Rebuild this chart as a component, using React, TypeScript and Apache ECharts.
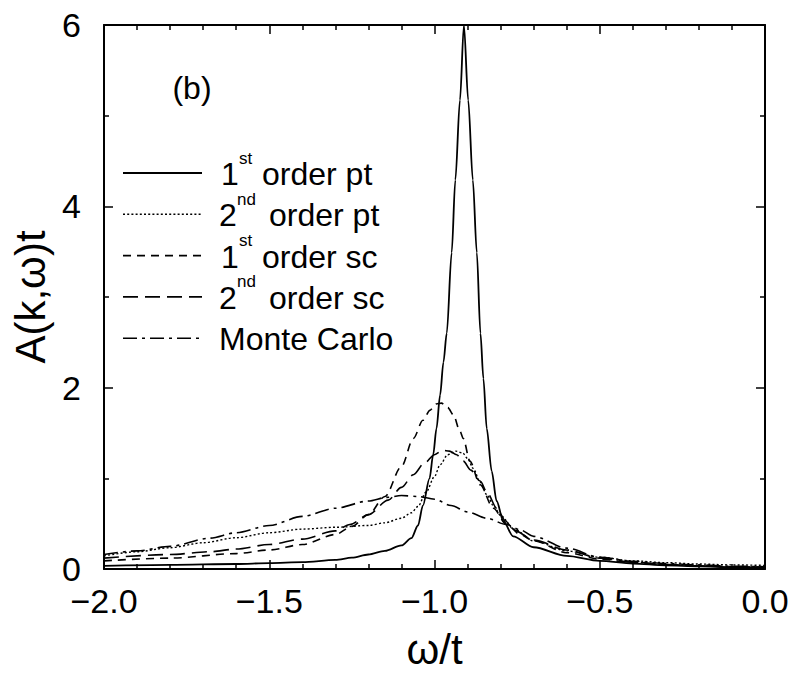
import React, { useEffect, useRef } from "react";
import * as echarts from "echarts";

// Data: [omega/t, A(k,omega)t]
const firstOrderPt: [number, number][] = [
  [-2.0, 0.035], [-1.8, 0.045], [-1.6, 0.055], [-1.5, 0.065], [-1.4, 0.075], [-1.3, 0.1],
  [-1.25, 0.125], [-1.2, 0.16], [-1.15, 0.2], [-1.1, 0.26], [-1.07, 0.34], [-1.05, 0.48],
  [-1.035, 0.7], [-1.015, 1.0], [-1.004, 1.26], [-0.994, 1.55], [-0.983, 1.92], [-0.973, 2.28],
  [-0.963, 2.6], [-0.948, 3.49], [-0.937, 4.29], [-0.923, 5.17], [-0.911, 6.0], [-0.898, 5.17],
  [-0.884, 4.29], [-0.872, 3.49], [-0.861, 2.6], [-0.852, 2.1], [-0.842, 1.55], [-0.827, 1.08],
  [-0.812, 0.75], [-0.792, 0.53], [-0.762, 0.36], [-0.7, 0.24], [-0.6, 0.145], [-0.5, 0.09],
  [-0.4, 0.06], [-0.3, 0.04], [-0.2, 0.03], [-0.1, 0.02], [0.0, 0.015],
];
const secondOrderPt: [number, number][] = [
  [-2.0, 0.145], [-1.9, 0.19], [-1.8, 0.235], [-1.7, 0.29], [-1.6, 0.345], [-1.5, 0.4],
  [-1.4, 0.44], [-1.3, 0.46], [-1.2, 0.48], [-1.15, 0.51], [-1.1, 0.56], [-1.07, 0.62],
  [-1.05, 0.69], [-1.025, 0.85], [-1.0, 1.02], [-0.983, 1.15], [-0.96, 1.26], [-0.935, 1.3],
  [-0.915, 1.28], [-0.9, 1.22], [-0.883, 1.11], [-0.862, 0.96], [-0.842, 0.82], [-0.82, 0.69],
  [-0.8, 0.59], [-0.76, 0.44], [-0.7, 0.31], [-0.6, 0.2], [-0.5, 0.13], [-0.4, 0.09],
  [-0.3, 0.07], [-0.2, 0.055], [-0.1, 0.045], [0.0, 0.04],
];
const firstOrderSc: [number, number][] = [
  [-2.0, 0.09], [-1.8, 0.12], [-1.6, 0.17], [-1.5, 0.21], [-1.4, 0.27], [-1.3, 0.38],
  [-1.25, 0.47], [-1.2, 0.6], [-1.15, 0.8], [-1.1, 1.13], [-1.064, 1.44], [-1.035, 1.64],
  [-1.014, 1.75], [-0.995, 1.82], [-0.979, 1.83], [-0.96, 1.78], [-0.943, 1.7], [-0.923, 1.52],
  [-0.913, 1.44], [-0.893, 1.19], [-0.862, 0.93], [-0.822, 0.67], [-0.782, 0.49], [-0.74, 0.38],
  [-0.7, 0.31], [-0.6, 0.18], [-0.5, 0.11], [-0.4, 0.07], [-0.3, 0.05], [-0.2, 0.035],
  [-0.1, 0.025], [0.0, 0.02],
];
const secondOrderSc: [number, number][] = [
  [-2.0, 0.12], [-1.8, 0.16], [-1.68, 0.19], [-1.6, 0.22], [-1.5, 0.27], [-1.4, 0.33],
  [-1.3, 0.42], [-1.256, 0.49], [-1.2, 0.6], [-1.14, 0.76], [-1.1, 0.9], [-1.064, 1.04],
  [-1.03, 1.17], [-1.0, 1.26], [-0.975, 1.31], [-0.955, 1.3], [-0.933, 1.26], [-0.913, 1.19],
  [-0.89, 1.09], [-0.862, 0.97], [-0.84, 0.84], [-0.812, 0.67], [-0.785, 0.53], [-0.761, 0.43],
  [-0.7, 0.32], [-0.6, 0.21], [-0.5, 0.12], [-0.4, 0.075], [-0.3, 0.05], [-0.2, 0.035],
  [-0.1, 0.025], [0.0, 0.02],
];
const monteCarlo: [number, number][] = [
  [-2.0, 0.16], [-1.9, 0.2], [-1.8, 0.25], [-1.68, 0.34], [-1.6, 0.4], [-1.5, 0.48],
  [-1.4, 0.58], [-1.3, 0.67], [-1.2, 0.75], [-1.145, 0.79], [-1.1, 0.81], [-1.05, 0.8],
  [-1.0, 0.77], [-0.95, 0.7], [-0.9, 0.63], [-0.842, 0.56], [-0.782, 0.49], [-0.74, 0.43],
  [-0.7, 0.36], [-0.6, 0.23], [-0.5, 0.13], [-0.4, 0.085], [-0.3, 0.06], [-0.2, 0.045],
  [-0.1, 0.03], [0.0, 0.025],
];

const seriesNames = ["1st order pt", "2nd order pt", "1st order sc", "2nd order sc", "Monte Carlo"];
const legendMain = ["1", "2", "1", "2", "Monte Carlo"];
const legendSup = ["st", "nd", "st", "nd", ""];
const legendRest = ["order pt", "order pt", "order sc", "order sc", ""];
const panelLabel = "(b)";

const FONT = "'Liberation Sans', Arial, Helvetica, sans-serif";

const styles = [
  { width: 1.8, type: "solid" as any },
  { width: 1.4, type: [2, 2.2] },
  { width: 1.6, type: [8, 6] },
  { width: 1.6, type: [15, 7] },
  { width: 1.6, type: [14, 5, 3, 5] },
];

export default function App() {
  const ref = useRef<HTMLDivElement>(null);
  useEffect(() => {
    if (!ref.current) return;
    const chart = echarts.init(ref.current, undefined, { renderer: "svg" });
    const datasets = [firstOrderPt, secondOrderPt, firstOrderSc, secondOrderSc, monteCarlo];

    const legendX1 = 123, legendX2 = 202, legendY0 = 173, legendDy = 41.3;
    const graphics: any[] = [];
    for (let i = 0; i < 5; i++) {
      const y = legendY0 + i * legendDy;
      graphics.push({
        type: "line",
        shape: { x1: legendX1, y1: y, x2: legendX2, y2: y },
        style: { stroke: "#000", lineWidth: styles[i].width, lineDash: styles[i].type === "solid" ? null : styles[i].type },
        silent: true,
      });
      const isMC = legendSup[i] === "";
      const mainX = legendMain[i] === "1" ? 221 : 219;
      graphics.push({
        type: "text", x: mainX, y: y + 1,
        style: { text: legendMain[i], font: `32px ${FONT}`, fill: "#000", verticalAlign: "middle", align: "left" },
      });
      if (!isMC) {
        graphics.push({
          type: "text", x: mainX + 18, y: y - 15,
          style: { text: legendSup[i], font: `17px ${FONT}`, fill: "#000", verticalAlign: "middle", align: "left" },
        });
        graphics.push({
          type: "text", x: legendSup[i] === "st" ? 262 : 269, y: y + 1,
          style: { text: legendRest[i], font: `32px ${FONT}`, fill: "#000", verticalAlign: "middle", align: "left" },
        });
      }
    }
    graphics.push({
      type: "text", x: 192, y: 88,
      style: { text: panelLabel, font: `32px ${FONT}`, fill: "#000", verticalAlign: "middle", align: "center" },
    });

    const tickCommon = {
      axisLine: { show: true, onZero: false, lineStyle: { color: "#000", width: 2 } },
      axisTick: { show: true, inside: true, length: 9, lineStyle: { color: "#000", width: 1.5 } },
      minorTick: { show: true, length: 5, lineStyle: { color: "#000", width: 1.5 } },
      splitLine: { show: false },
      minorSplitLine: { show: false },
    };

    chart.setOption({
      animation: false,
      backgroundColor: "#fff",
      grid: { left: 104, right: 31, top: 25, bottom: 103.5, containLabel: false },
      xAxis: [
        {
          type: "value", min: -2, max: 0, interval: 0.5, position: "bottom",
          ...tickCommon,
          minorTick: { ...tickCommon.minorTick, splitNumber: 5 },
          axisLabel: {
            show: true, margin: 15, fontSize: 34, fontFamily: FONT, color: "#000",
            formatter: (v: number) => (v < 0 ? "\u2212" : "") + Math.abs(v).toFixed(1),
          },
          name: "\u03c9/t", nameLocation: "middle", nameGap: 59,
          nameTextStyle: { fontSize: 42, fontFamily: FONT, color: "#000" },
        },
        {
          type: "value", min: -2, max: 0, interval: 0.5, position: "top",
          ...tickCommon,
          minorTick: { ...tickCommon.minorTick, splitNumber: 5 },
          axisLabel: { show: false },
        },
      ],
      yAxis: [
        {
          type: "value", min: 0, max: 6, interval: 2, position: "left",
          ...tickCommon,
          minorTick: { ...tickCommon.minorTick, splitNumber: 2 },
          axisLabel: { show: true, margin: 23, fontSize: 34, fontFamily: FONT, color: "#000" },
          name: "A(k,\u03c9)t", nameLocation: "middle", nameGap: 51, nameRotate: 90,
          nameTextStyle: { fontSize: 42, fontFamily: FONT, color: "#000" },
        },
        {
          type: "value", min: 0, max: 6, interval: 2, position: "right",
          ...tickCommon,
          minorTick: { ...tickCommon.minorTick, splitNumber: 2 },
          axisLabel: { show: false },
        },
      ],
      series: datasets.map((d, i) => ({
        name: seriesNames[i],
        type: "line",
        data: d,
        xAxisIndex: 0,
        yAxisIndex: 0,
        showSymbol: false,
        symbol: "none",
        smooth: 0.3,
        smoothMonotone: "x",
        clip: true,
        lineStyle: { color: "#000", width: styles[i].width, type: styles[i].type },
        z: 5 - i,
      })),
      graphic: graphics,
    });
    return () => chart.dispose();
  }, []);
  return <div ref={ref} style={{ width: 796, height: 675, position: "absolute", left: 0, top: 0 }} />;
}
